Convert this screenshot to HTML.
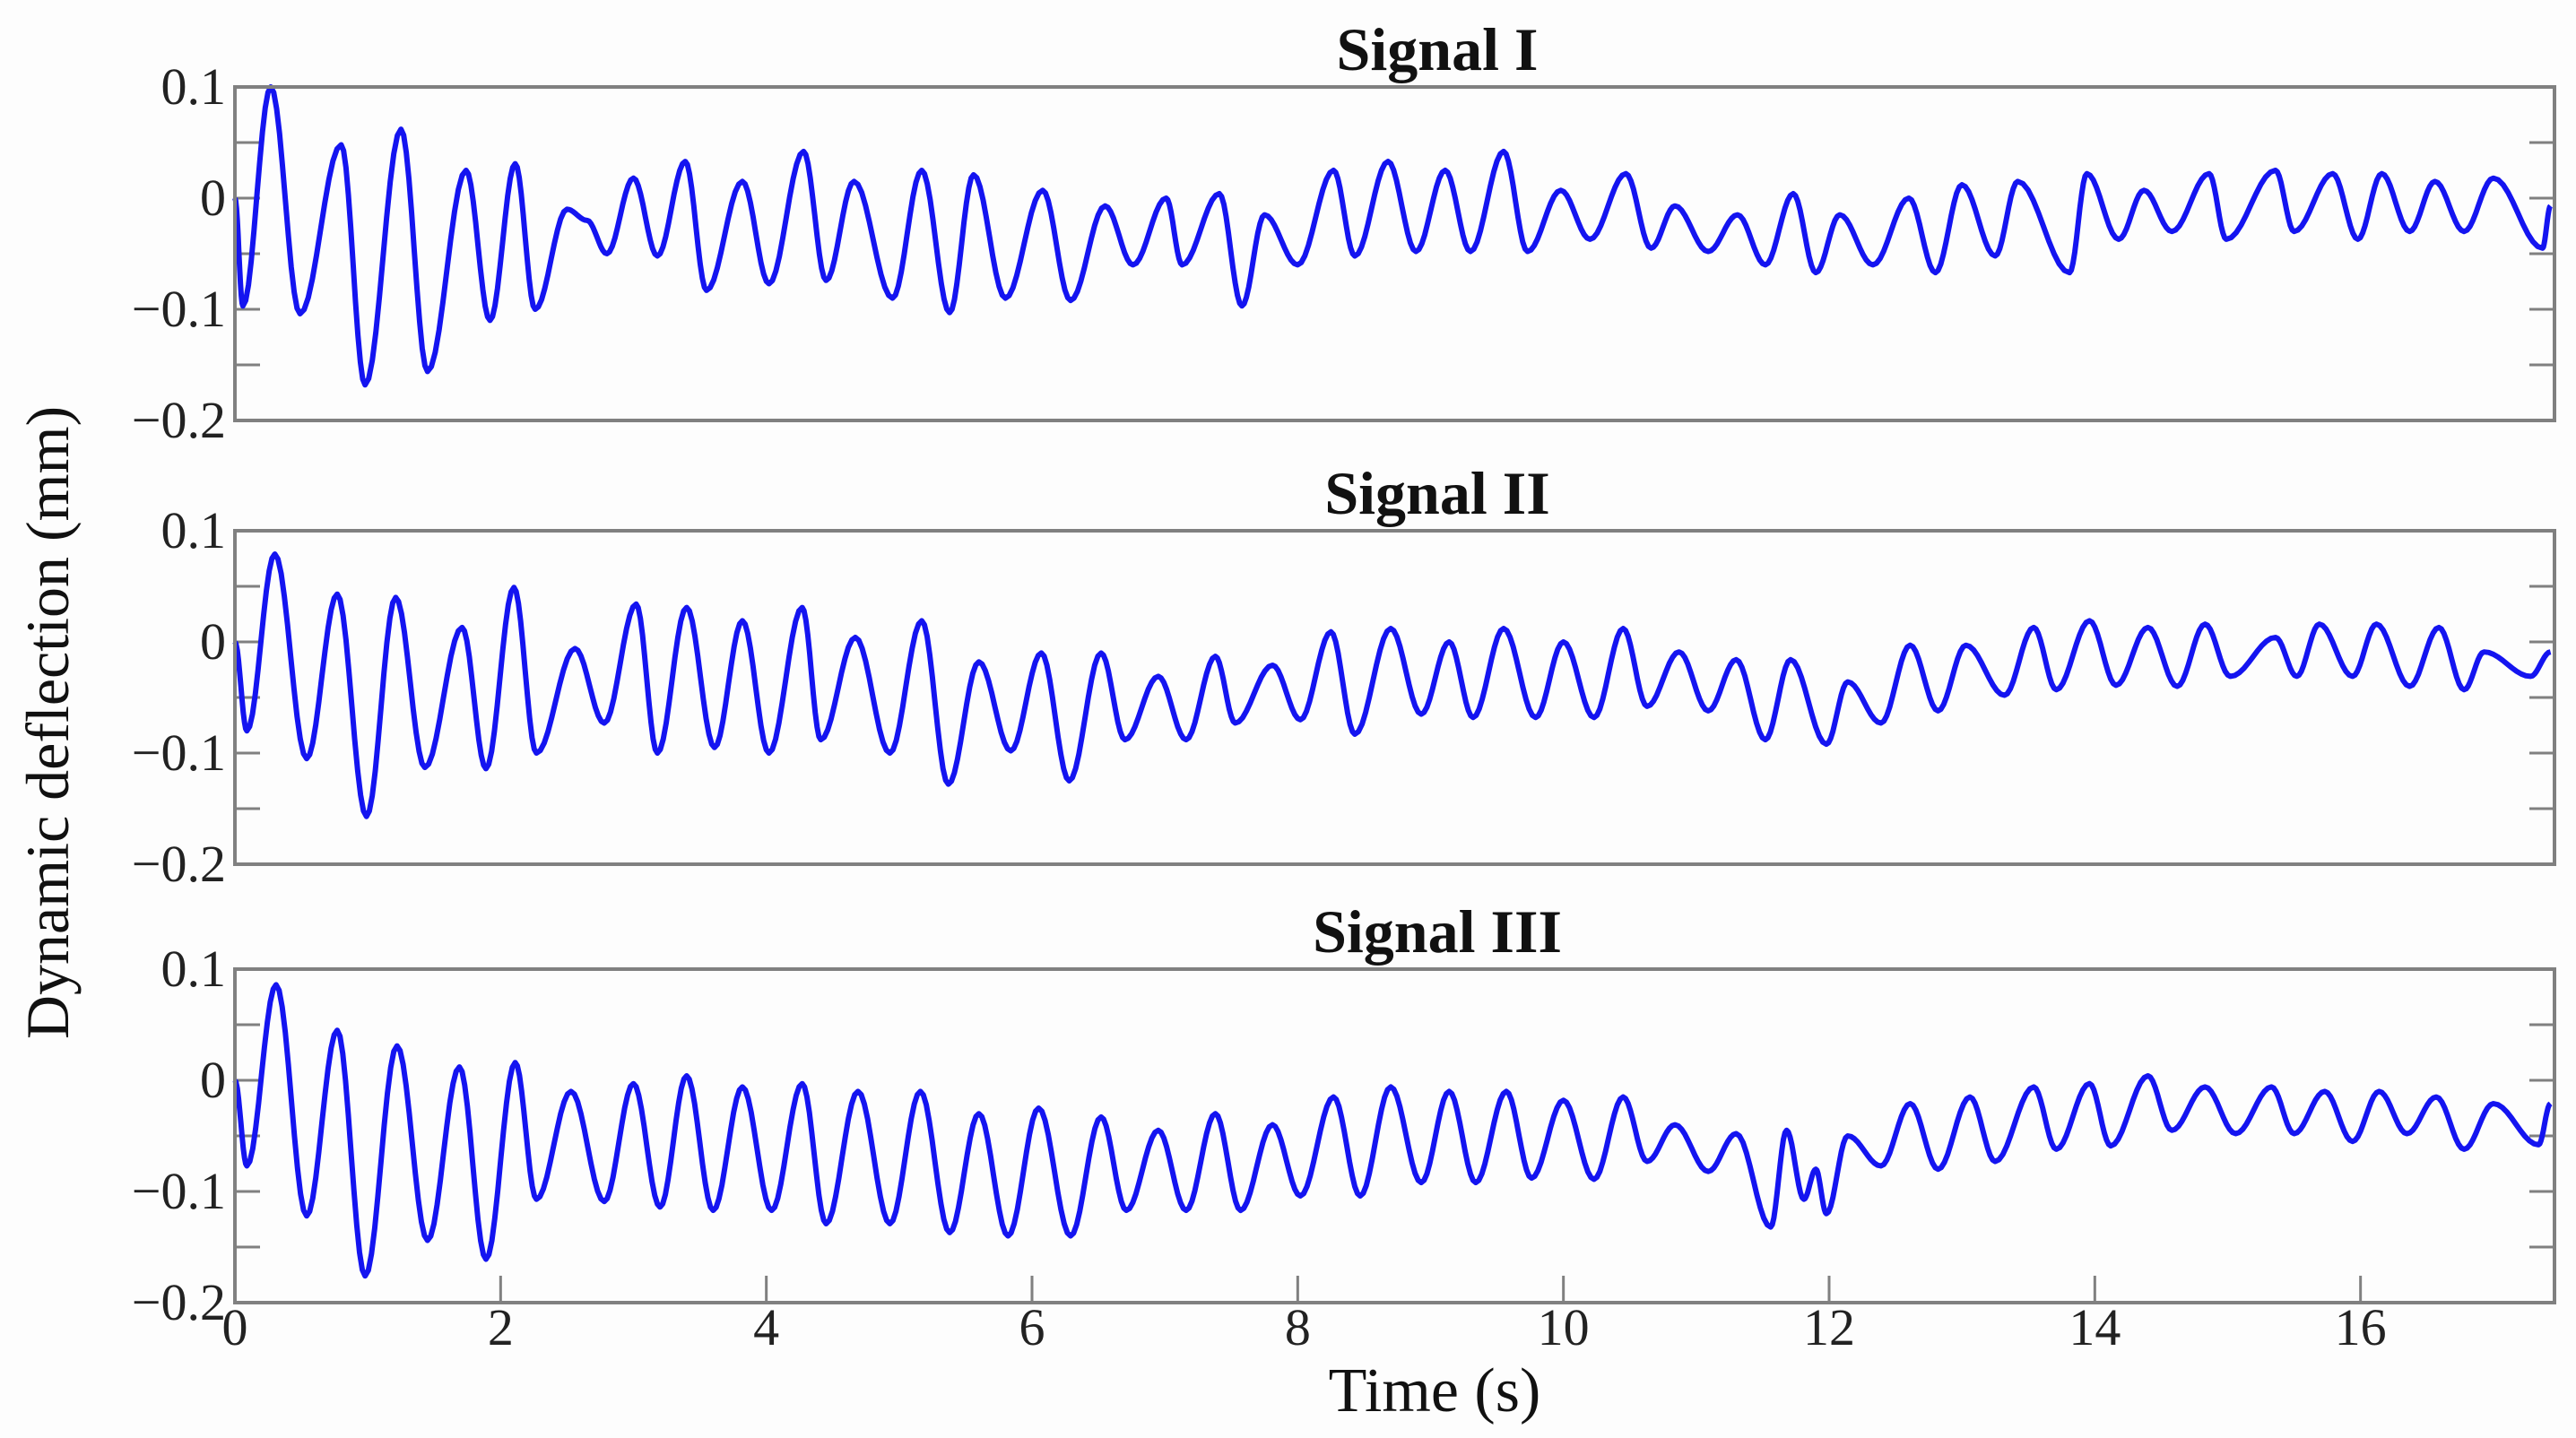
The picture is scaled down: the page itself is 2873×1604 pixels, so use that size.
<!DOCTYPE html>
<html><head><meta charset="utf-8"><style>
html,body{margin:0;padding:0;background:#fdfdfd;}
svg{display:block;font-family:"Liberation Serif",serif;}
</style></head><body>
<svg id="chart" width="2873" height="1604" viewBox="0 0 2873 1604" xmlns="http://www.w3.org/2000/svg">
<text x="0" y="0" transform="translate(76,806) rotate(-90)" text-anchor="middle" font-size="68" fill="#111">Dynamic deflection (mm)</text>
<text x="1600" y="1574" text-anchor="middle" font-size="70" fill="#111">Time (s)</text>
<g id="plots"></g>
</svg>
<script>
const titles=["Signal I","Signal II","Signal III"];
const yTicks=[0.1,0,-0.1,-0.2];
const yTickLabels=["0.1","0","\u22120.1","\u22120.2"];
const xTicks=[0,2,4,6,8,10,12,14,16];
const xTickLabels=["0","2","4","6","8","10","12","14","16"];
const times1=[0,.06,.27,.49,.8,.98,1.25,1.45,1.74,1.92,2.11,2.26,2.5,2.65,2.8,3.0,3.18,3.39,3.55,3.82,4.02,4.28,4.45,4.66,4.95,5.17,5.38,5.56,5.8,6.08,6.29,6.55,6.76,7.01,7.13,7.41,7.58,7.75,8.0,8.27,8.43,8.68,8.89,9.11,9.3,9.55,9.73,9.98,10.2,10.47,10.66,10.84,11.09,11.31,11.52,11.73,11.9,12.08,12.33,12.6,12.8,13.0,13.25,13.42,13.81,13.94,14.18,14.37,14.58,14.86,14.99,15.36,15.5,15.79,15.98,16.16,16.37,16.56,16.78,17.0,17.37,17.43];
const values1=[0,-.097,.1,-.104,.048,-.168,.062,-.156,.025,-.11,.031,-.1,-.01,-.02,-.05,.018,-.052,.033,-.083,.015,-.077,.042,-.074,.015,-.09,.025,-.103,.021,-.09,.007,-.092,-.007,-.06,0,-.06,.004,-.097,-.015,-.06,.025,-.052,.033,-.048,.025,-.048,.042,-.048,.007,-.037,.022,-.045,-.007,-.048,-.015,-.06,.004,-.067,-.015,-.06,0,-.067,.012,-.052,.015,-.067,.022,-.037,.007,-.03,.022,-.037,.025,-.03,.022,-.037,.022,-.03,.015,-.03,.018,-.045,-.007];
const times2=[0,.09,.3,.54,.77,.99,1.21,1.43,1.71,1.89,2.1,2.27,2.56,2.78,3.02,3.18,3.4,3.61,3.82,4.02,4.27,4.41,4.67,4.93,5.17,5.37,5.6,5.84,6.07,6.28,6.52,6.7,6.95,7.16,7.38,7.53,7.81,8.02,8.25,8.43,8.7,8.93,9.14,9.32,9.55,9.79,10.0,10.23,10.45,10.63,10.87,11.09,11.3,11.52,11.71,11.98,12.14,12.39,12.61,12.82,13.03,13.32,13.54,13.71,13.96,14.16,14.4,14.62,14.83,15.02,15.36,15.52,15.69,15.94,16.12,16.37,16.59,16.78,16.93,17.28,17.43];
const values2=[0,-.08,.079,-.105,.043,-.157,.04,-.113,.013,-.114,.049,-.1,-.006,-.073,.034,-.1,.031,-.095,.019,-.1,.031,-.088,.004,-.1,.019,-.128,-.018,-.098,-.01,-.125,-.01,-.088,-.031,-.088,-.013,-.073,-.021,-.07,.009,-.083,.012,-.065,0,-.068,.012,-.068,0,-.068,.012,-.058,-.009,-.062,-.016,-.088,-.016,-.092,-.036,-.073,-.003,-.062,-.003,-.048,.013,-.043,.019,-.039,.013,-.04,.016,-.031,.004,-.031,.016,-.031,.016,-.04,.013,-.043,-.009,-.031,-.009];
const times3=[0,.09,.31,.54,.77,.98,1.22,1.45,1.69,1.89,2.11,2.27,2.53,2.78,3.0,3.2,3.4,3.6,3.82,4.04,4.27,4.45,4.69,4.93,5.16,5.38,5.6,5.82,6.05,6.29,6.52,6.71,6.95,7.16,7.38,7.57,7.81,8.02,8.27,8.47,8.7,8.93,9.14,9.34,9.57,9.76,10.0,10.23,10.45,10.63,10.84,11.09,11.3,11.56,11.68,11.81,11.9,11.98,12.14,12.39,12.61,12.82,13.06,13.25,13.54,13.71,13.96,14.12,14.4,14.58,14.83,15.06,15.33,15.5,15.73,15.94,16.14,16.35,16.57,16.78,17.0,17.34,17.43];
const values3=[0,-.077,.086,-.122,.045,-.176,.031,-.144,.012,-.161,.016,-.107,-.01,-.109,-.003,-.114,.004,-.117,-.006,-.117,-.003,-.129,-.01,-.129,-.01,-.137,-.03,-.14,-.025,-.14,-.033,-.117,-.045,-.117,-.03,-.117,-.04,-.104,-.015,-.104,-.006,-.092,-.01,-.092,-.01,-.088,-.018,-.089,-.015,-.073,-.04,-.082,-.048,-.132,-.045,-.107,-.08,-.12,-.05,-.077,-.021,-.08,-.015,-.073,-.006,-.062,-.003,-.059,.004,-.045,-.006,-.048,-.006,-.048,-.01,-.055,-.01,-.048,-.015,-.062,-.021,-.058,-.021];
const allTimes=[times1,times2,times3];
const allValues=[values1,values2,values3];

const NS="http://www.w3.org/2000/svg";
const L=262,R=2849,H=372,tops=[97,592,1081],XMAX=17.46;
const xs=t=>L+(t/XMAX)*(R-L);
const ysFor=top=>v=>top+(0.1-v)/0.3*H;
const g=document.getElementById('plots');
function mk(tag,attrs){const e=document.createElementNS(NS,tag);for(const k in attrs)e.setAttribute(k,attrs[k]);return e;}

for(let p=0;p<3;p++){
  const top=tops[p],ys=ysFor(top);
  const pg=mk('g',{});
  
  
  g.appendChild(pg);
  const title=mk('text',{x:1603,y:top-19,'text-anchor':'middle','font-size':68,'font-weight':'bold',fill:'#111'});
  
  
  title.textContent=titles[p];pg.appendChild(title);
  for(let v=0.05;v>-0.2;v-=0.05){
    const y=ys(v);
    const t1=mk('line',{x1:L,x2:L+28,y1:y,y2:y,stroke:'#808080','stroke-width':3});
    
    
    pg.appendChild(t1);
    const t2=mk('line',{x1:R-28,x2:R,y1:y,y2:y,stroke:'#808080','stroke-width':3});
    
    
    pg.appendChild(t2);
  }
  yTicks.forEach((v,i)=>{
    const tx=mk('text',{x:252,y:ys(v)+19,'text-anchor':'end','font-size':58,fill:'#222'});
    
    
    tx.textContent=yTickLabels[i];pg.appendChild(tx);
  });
  const T=allTimes[p],V=allValues[p];
  let d='M'+xs(T[0]).toFixed(1)+','+ys(V[0]).toFixed(1);
  for(let i=1;i<T.length;i++){
    for(let k=1;k<=10;k++){
      const f=k/10,e=(1-Math.cos(Math.PI*f))/2;
      const t=T[i-1]+(T[i]-T[i-1])*f,v=V[i-1]+(V[i]-V[i-1])*e;
      d+='L'+xs(t).toFixed(1)+','+ys(v).toFixed(1);
    }
  }
  const path=mk('path',{d:d,fill:'none',stroke:'#1414f0','stroke-width':6,'stroke-linejoin':'round'});
  
  
  pg.appendChild(path);
  const box=mk('rect',{x:L,y:top,width:R-L,height:H,fill:'none',stroke:'#808080','stroke-width':4});
  
  
  pg.appendChild(box);
  if(p===2){
    xTicks.forEach((v,i)=>{
      const x=xs(v);
      if(i>0){
        const tk=mk('line',{x1:x,x2:x,y1:top+H,y2:top+H-30,stroke:'#808080','stroke-width':3});
        
        
        pg.appendChild(tk);
      }
      const tx=mk('text',{x:x,y:top+H+47,'text-anchor':'middle','font-size':58,fill:'#222'});
      
      
      tx.textContent=xTickLabels[i];pg.appendChild(tx);
    });
  }
}
</script>
</body></html>
